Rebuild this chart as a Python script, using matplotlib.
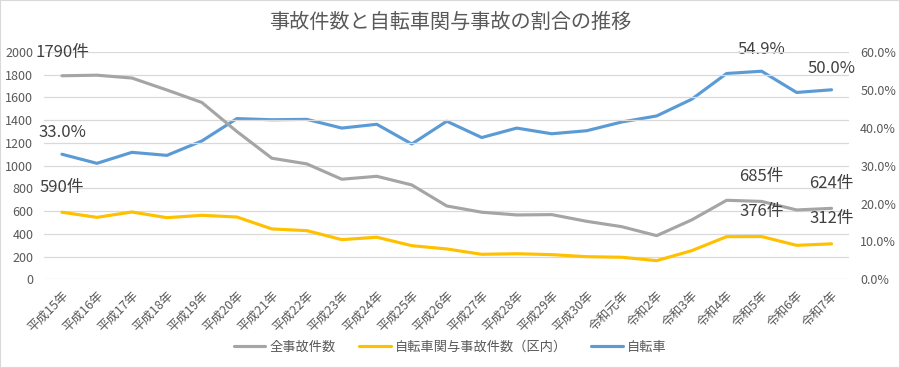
import matplotlib
matplotlib.use("Agg")
import matplotlib.pyplot as plt
from matplotlib.ticker import FuncFormatter, MultipleLocator
from matplotlib.patches import Rectangle

plt.rcParams['font.family'] = ['Noto Sans CJK JP', 'DejaVu Sans']

years = ["平成15年", "平成16年", "平成17年", "平成18年", "平成19年", "平成20年",
         "平成21年", "平成22年", "平成23年", "平成24年", "平成25年", "平成26年",
         "平成27年", "平成28年", "平成29年", "平成30年", "令和元年", "令和2年",
         "令和3年", "令和4年", "令和5年", "令和6年", "令和7年"]
total_accidents = [1790, 1795, 1770, 1665, 1555, 1300, 1065, 1015, 880, 906, 830,
                   645, 590, 566, 569, 510, 463, 384, 522, 695, 685, 610, 624]
bicycle_accidents = [590, 545, 592, 542, 563, 548, 443, 428, 349, 370, 296, 267,
                     220, 225, 217, 199, 194, 164, 252, 375, 376, 299, 312]
bicycle_ratio = [33.0, 30.6, 33.5, 32.7, 36.5, 42.4, 42.1, 42.2, 39.9, 40.9, 35.7,
                 41.7, 37.4, 39.9, 38.4, 39.2, 41.5, 43.1, 47.5, 54.3, 54.9, 49.3, 50.0]

GRAY = "#A5A5A5"
YELLOW = "#FFC000"
BLUE = "#5B9BD5"
TXT = "#595959"
GRID = "#D9D9D9"

fig = plt.figure(figsize=(9, 3.68), dpi=100)
ax = fig.add_axes([0.0494, 0.241, 0.8940, 0.618])
ax2 = ax.twinx()

x = list(range(len(years)))
l1, = ax.plot(x, total_accidents, color=GRAY, lw=2.25, label="全事故件数", solid_capstyle='round')
l2, = ax.plot(x, bicycle_accidents, color=YELLOW, lw=2.25, label="自転車関与事故件数（区内）", solid_capstyle='round')
l3, = ax2.plot(x, bicycle_ratio, color=BLUE, lw=2.25, label="自転車", solid_capstyle='round')

ax.set_xlim(-0.5, len(years) - 0.5)
ax.set_ylim(0, 2000)
ax2.set_ylim(0, 60)
ax.yaxis.set_major_locator(MultipleLocator(200))
ax2.yaxis.set_major_locator(MultipleLocator(10))
ax2.yaxis.set_major_formatter(FuncFormatter(lambda v, p: f"{v:.1f}%"))

ax.grid(axis='y', color=GRID, lw=0.9)
ax.set_axisbelow(True)
for a in (ax, ax2):
    for s in a.spines.values():
        s.set_visible(False)
ax.tick_params(axis='y', length=0, labelsize=9, labelcolor=TXT, pad=8)
ax2.tick_params(axis='y', length=0, labelsize=9, labelcolor=TXT, pad=8)
ax.tick_params(axis='x', length=0, labelsize=9, labelcolor=TXT, pad=7)
ax.set_xticks(x)
ax.set_xticklabels(years, rotation=45, ha='right', rotation_mode='anchor')

ax.set_zorder(ax2.get_zorder() + 1)
ax.patch.set_visible(False)

fig.text(0.5, 0.938, "事故件数と自転車関与事故の割合の推移", ha='center', va='center',
         fontsize=14.5, color=TXT)

def lab(axis, i, vals, text, off):
    axis.annotate(text, (x[i], vals[i]), xytext=(0, off), textcoords='offset points',
                  ha='center', va='center', fontsize=12, color="#404040")

lab(ax, 0, total_accidents, f"{total_accidents[0]}件", 17)
lab(ax, 20, total_accidents, f"{total_accidents[20]}件", 18)
lab(ax, 22, total_accidents, f"{total_accidents[22]}件", 18)
lab(ax, 0, bicycle_accidents, f"{bicycle_accidents[0]}件", 18)
lab(ax, 20, bicycle_accidents, f"{bicycle_accidents[20]}件", 18)
lab(ax, 22, bicycle_accidents, f"{bicycle_accidents[22]}件", 18)
lab(ax2, 0, bicycle_ratio, f"{bicycle_ratio[0]:.1f}%", 15.5)
lab(ax2, 20, bicycle_ratio, f"{bicycle_ratio[20]:.1f}%", 15.5)
lab(ax2, 22, bicycle_ratio, f"{bicycle_ratio[22]:.1f}%", 15.5)

fig.legend(handles=[l1, l2, l3], loc='center', bbox_to_anchor=(0.5, 0.057), ncol=3,
           frameon=False, fontsize=9.5, labelcolor=TXT, handlelength=2.4,
           columnspacing=1.8, handletextpad=0.3)

fig.patches.append(Rectangle((0, 0), 1, 1, transform=fig.transFigure, fill=False,
                             edgecolor=GRID, lw=1.5))

fig.savefig("out.png", dpi=100, facecolor='white')
